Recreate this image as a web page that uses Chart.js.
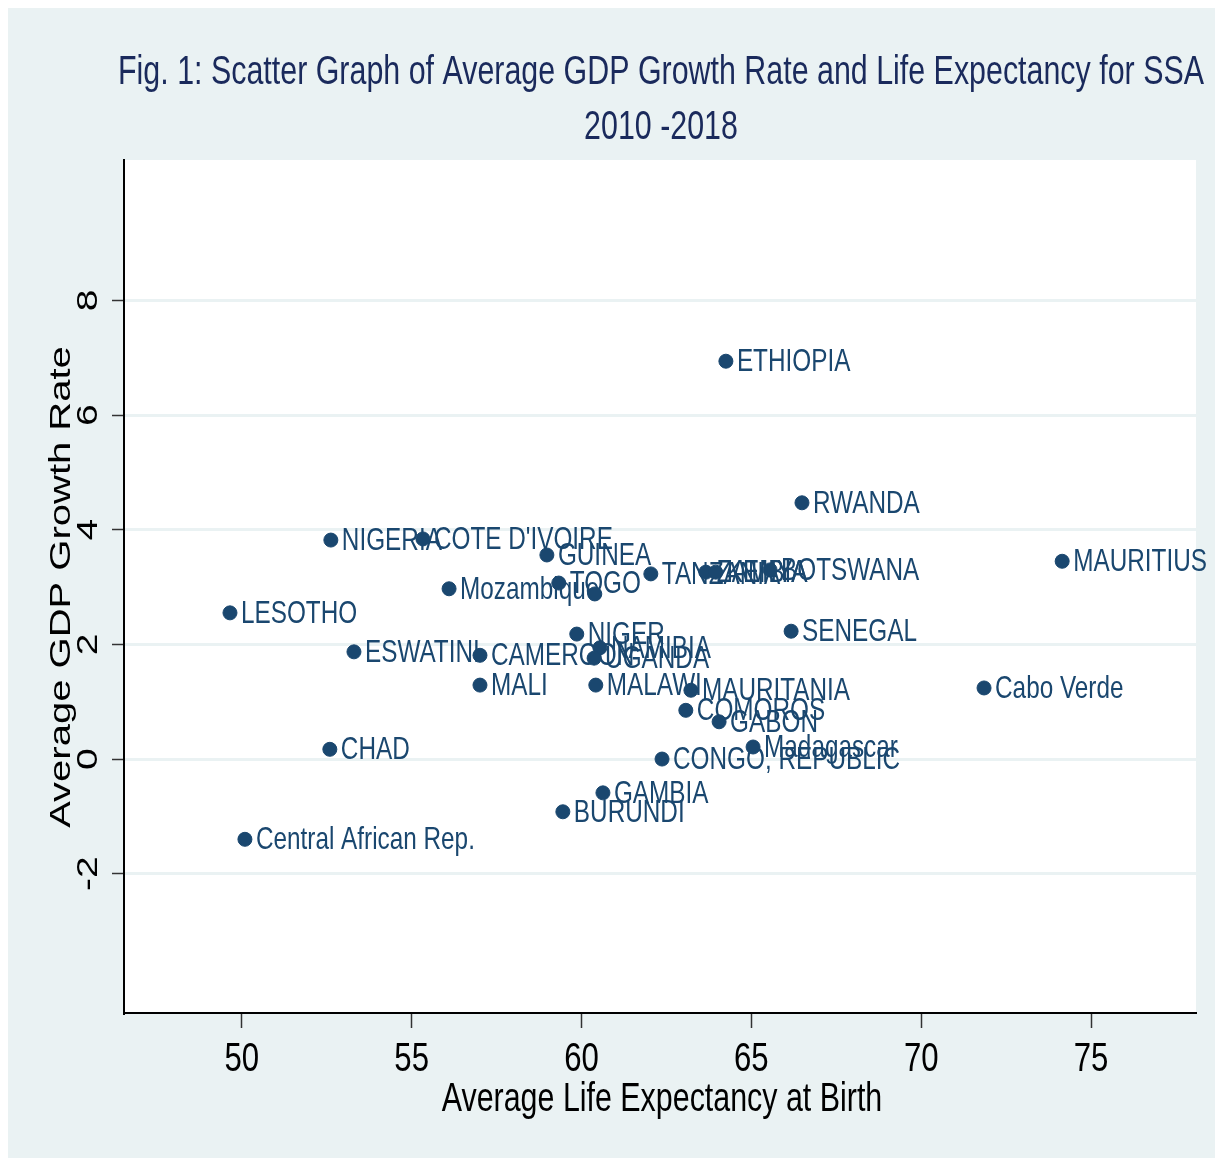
<!DOCTYPE html>
<html>
<head>
<meta charset="utf-8">
<script src="https://cdn.jsdelivr.net/npm/chart.js@4.4.0/dist/chart.umd.min.js"></script>
<style>
  html, body { margin: 0; padding: 0; background: #fff; }
  #wrap { width: 1223px; height: 1165px; }
</style>
</head>
<body>
<div id="wrap"><canvas id="myChart" width="1223" height="1165"></canvas></div>
<script>
// country names, avg life expectancy (x) and avg GDP growth (y)
var countries = ['ETHIOPIA', 'RWANDA', 'MAURITIUS', 'NIGERIA', 'COTE D\'IVOIRE', 'GUINEA',
    'TANZANIA', 'ZAMBIA', 'KENYA', 'BOTSWANA', 'TOGO', 'Mozambique', '',
    'LESOTHO', 'NIGER', 'SENEGAL', 'ESWATINI', 'CAMEROON', 'NAMIBIA', 'UGANDA',
    'MALI', 'MALAWI', 'MAURITANIA', 'Cabo Verde', 'COMOROS', 'GABON', 'Madagascar',
    'CONGO, REPUBLIC', 'CHAD', 'GAMBIA', 'BURUNDI', 'Central African Rep.'];
var lifeExp = [64.25, 66.49, 74.15, 52.62, 55.33, 58.98,
    62.04, 63.66, 63.95, 65.55, 59.33, 56.10, 60.39,
    49.65, 59.86, 66.17, 53.30, 57.01, 60.54, 60.37,
    57.01, 60.42, 63.22, 71.85, 63.07, 64.05, 65.05,
    62.37, 52.59, 60.63, 59.45, 50.09];
var gdpGrowth = [6.94, 4.47, 3.45, 3.82, 3.84, 3.56,
    3.23, 3.26, 3.26, 3.30, 3.07, 2.97, 2.88,
    2.55, 2.18, 2.23, 1.87, 1.81, 1.94, 1.76,
    1.29, 1.29, 1.20, 1.24, 0.85, 0.65, 0.21,
    0.00, 0.17, -0.59, -0.92, -1.40];

var xTicks = [50, 55, 60, 65, 70, 75];
var yTicks = [-2, 0, 2, 4, 6, 8];

var titleLines = ['Fig. 1: Scatter Graph of Average GDP Growth Rate and Life Expectancy for SSA', '2010 -2018'];
var xTitle = 'Average Life Expectancy at Birth';
var yTitle = 'Average GDP Growth Rate';

var navy = '#1a476f';
var bgColor = 'rgb(234,242,243)';
var squeeze = 0.76; // the original is horizontally squeezed
var fontFam = '"Liberation Sans", Arial, sans-serif';

function txt(ctx, s, x, y, size, color, align, rotate) {
    ctx.save();
    ctx.translate(x, y);
    ctx.scale(squeeze, 1);
    if (rotate) ctx.rotate(-Math.PI / 2);
    ctx.font = size + 'px ' + fontFam;
    ctx.fillStyle = color;
    ctx.textAlign = align || 'center';
    ctx.textBaseline = 'middle';
    ctx.fillText(s, 0, 0);
    ctx.restore();
}

var points = lifeExp.map(function (v, i) { return { x: v, y: gdpGrowth[i] }; });

var decor = {
    id: 'decor',
    beforeDraw: function (chart) {
        var ctx = chart.ctx, a = chart.chartArea;
        ctx.save();
        ctx.fillStyle = '#fff';
        ctx.fillRect(0, 0, chart.width, chart.height);
        ctx.fillStyle = bgColor;
        ctx.fillRect(8, 8, 1207, 1150);
        ctx.fillStyle = '#fff';
        ctx.fillRect(a.left, a.top, a.right - a.left, a.bottom - a.top);
        ctx.restore();
    },
    beforeDatasetsDraw: function (chart) {
        // labels first so markers sit on top of them, as in the original
        var ctx = chart.ctx;
        var meta = chart.getDatasetMeta(0);
        meta.data.forEach(function (pt, i) {
            if (!countries[i]) return;
            txt(ctx, countries[i], pt.x + 11, pt.y + 1, 32, navy, 'left');
        });
    },
    afterDraw: function (chart) {
        var ctx = chart.ctx, a = chart.chartArea;
        var xs = chart.scales.x, ys = chart.scales.y;
        var cx = (a.left + a.right) / 2;
        txt(ctx, titleLines[0], cx + 1, 73, 40, '#1a2a5c');
        txt(ctx, titleLines[1], cx + 1, 128, 40, '#1a2a5c');
        xTicks.forEach(function (v) {
            txt(ctx, String(v), xs.getPixelForValue(v), 1060, 41, '#000');
        });
        yTicks.forEach(function (v) {
            txt(ctx, String(v), 89, ys.getPixelForValue(v), 39, '#000', 'center', true);
        });
        txt(ctx, xTitle, cx + 2, 1100, 40, '#000');
        txt(ctx, yTitle, 62, 587, 40, '#000', 'center', true);
    }
};

var ctx = document.getElementById('myChart').getContext('2d');
var myChart = new Chart(ctx, {
    type: 'scatter',
    data: {
        datasets: [{
            label: 'Countries',
            data: points,
            backgroundColor: navy,
            borderColor: navy,
            pointRadius: 7,
            pointHoverRadius: 7
        }]
    },
    options: {
        responsive: false,
        animation: false,
        devicePixelRatio: 1,
        layout: { padding: { top: 160, right: 27, left: 0, bottom: 0 } },
        plugins: {
            legend: { display: false },
            tooltip: { enabled: false }
        },
        scales: {
            x: {
                min: 46.53,
                max: 78.09,
                afterBuildTicks: function (s) { s.ticks = xTicks.map(function (v) { return { value: v }; }); },
                afterFit: function (s) { s.height = 1165 - 1013; },
                ticks: { color: 'rgba(0,0,0,0)', autoSkip: false },
                grid: { drawOnChartArea: false, drawTicks: true, tickLength: 15, tickColor: '#333', tickWidth: 1.5 },
                border: { display: true, color: '#000', width: 2 }
            },
            y: {
                min: -4.43,
                max: 10.45,
                afterBuildTicks: function (s) { s.ticks = yTicks.map(function (v) { return { value: v }; }); },
                afterFit: function (s) { s.width = 124; },
                ticks: { color: 'rgba(0,0,0,0)', autoSkip: false },
                grid: { color: bgColor, lineWidth: 3, drawTicks: true, tickLength: 12, tickColor: '#333', tickWidth: 1.5 },
                border: { display: true, color: '#000', width: 2 }
            }
        }
    },
    plugins: [decor]
});
</script>
</body>
</html>
